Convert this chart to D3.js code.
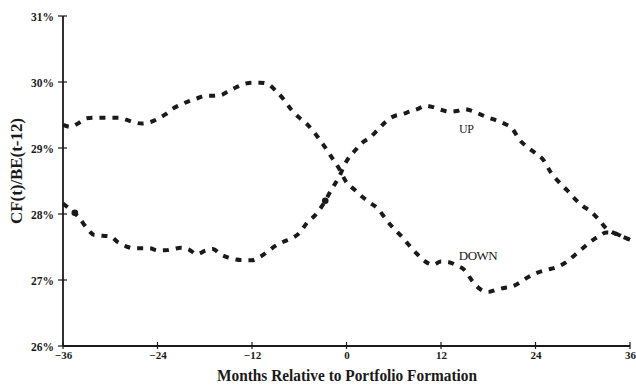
<!DOCTYPE html>
<html>
<head>
<meta charset="utf-8">
<script src="https://cdn.jsdelivr.net/npm/d3@7/dist/d3.min.js"></script>
<style>
  html, body { margin: 0; padding: 0; background: #fff; }
  svg { display: block; }
  text { font-family: "Liberation Serif", "Times New Roman", serif; fill: #1a1a1a; }
</style>
</head>
<body>
<svg id="chart" width="636" height="385"></svg>
<script>
// Months relative to portfolio formation
const months = d3.range(-36, 37);

// Series that is high before formation and low after (labelled DOWN)
const downValues = [
  29.35, 29.32, 29.38, 29.45, 29.46, 29.46, 29.46, 29.46, 29.43, 29.39,
  29.37, 29.39, 29.44, 29.51, 29.60, 29.66, 29.71, 29.75, 29.79, 29.79,
  29.80, 29.86, 29.92, 29.97, 29.99, 29.99, 29.97, 29.87, 29.74, 29.58,
  29.46, 29.36, 29.22, 29.06, 28.88, 28.70, 28.48, 28.37, 28.26, 28.17,
  28.08, 27.92, 27.78, 27.66, 27.52, 27.39, 27.28, 27.23, 27.28, 27.27,
  27.22, 27.15, 26.98, 26.86, 26.82, 26.85, 26.88, 26.90, 26.96, 27.04,
  27.10, 27.14, 27.17, 27.21, 27.28, 27.38, 27.48, 27.58, 27.66, 27.72,
  27.71, 27.66, 27.61
];

// Series that is low before formation and high after (labelled UP)
const upValues = [
  28.16, 28.06, 27.95, 27.79, 27.68, 27.67, 27.66, 27.57, 27.51, 27.48,
  27.48, 27.48, 27.45, 27.45, 27.47, 27.49, 27.46, 27.39, 27.44, 27.47,
  27.39, 27.34, 27.31, 27.30, 27.30, 27.35, 27.43, 27.52, 27.58, 27.63,
  27.71, 27.87, 27.98, 28.14, 28.35, 28.55, 28.80, 28.95, 29.08, 29.16,
  29.28, 29.40, 29.48, 29.51, 29.55, 29.59, 29.64, 29.62, 29.58, 29.55,
  29.56, 29.59, 29.56, 29.51, 29.46, 29.42, 29.37, 29.30, 29.12, 29.01,
  28.92, 28.82, 28.62, 28.48, 28.36, 28.23, 28.12, 28.04, 27.92, 27.78,
  27.71, 27.66, 27.61
];

const xTicks = [-36, -24, -12, 0, 12, 24, 36];
const yTicks = [26, 27, 28, 29, 30, 31];
const seriesLabels = [
  { name: "UP", month: 15.2, value: 29.22 },
  { name: "DOWN", month: 16.7, value: 27.30 }
];
// stray printed dots visible in the scan
const stray = [[-34.5, 28.02], [-2.7, 28.20]];

const xLabel = "Months Relative to Portfolio Formation";
const yLabel = "CF(t)/BE(t-12)";

const svg = d3.select("#chart");
const ink = "#1a1a1a";

const x = d3.scaleLinear().domain([-36, 36]).range([63, 630]);
const y = d3.scaleLinear().domain([26, 31]).range([346, 16]);

// Axes
const xAxis = d3.axisBottom(x).tickValues(xTicks).tickSize(0).tickFormat(d3.format("d"));
const gx = svg.append("g").attr("transform", `translate(0,${y(26)})`).call(xAxis);
gx.select(".domain").remove();
gx.selectAll("text").attr("dy", null).attr("y", 13)
  .style("font-size", "11px").style("font-weight", "bold").attr("fill", ink);

svg.append("line").attr("x1", x(-36)).attr("x2", x(36)).attr("y1", y(26)).attr("y2", y(26))
  .attr("stroke", ink).attr("stroke-width", 1.8);
svg.selectAll(".xt").data(xTicks).join("line")
  .attr("x1", d => x(d)).attr("x2", d => x(d)).attr("y1", y(26) - 4).attr("y2", y(26) + 3)
  .attr("stroke", ink).attr("stroke-width", 1.2);

const yAxis = d3.axisLeft(y).tickValues(yTicks).tickSize(0).tickFormat(d => d + "%");
const gy = svg.append("g").attr("transform", `translate(${x(-36)},0)`).call(yAxis);
gy.select(".domain").remove();
gy.selectAll("text").attr("x", -9).attr("dy", "0.35em")
  .style("font-size", "11.5px").style("font-weight", "bold").attr("fill", ink);

svg.append("line").attr("x1", x(-36)).attr("x2", x(-36)).attr("y1", y(31)).attr("y2", y(26))
  .attr("stroke", ink).attr("stroke-width", 1.8);
svg.selectAll(".yt").data(yTicks).join("line")
  .attr("x1", x(-36) - 5).attr("x2", x(-36) + 4).attr("y1", d => y(d)).attr("y2", d => y(d))
  .attr("stroke", ink).attr("stroke-width", 1.2);

// Lines
const line = d3.line().x((d, i) => x(months[i])).y(d => y(d)).curve(d3.curveMonotoneX);
[downValues, upValues].forEach(vals => {
  svg.append("path").datum(vals).attr("d", line)
    .attr("fill", "none").attr("stroke", ink).attr("stroke-width", 4)
    .attr("stroke-dasharray", "6,7");
});

svg.selectAll(".stray").data(stray).join("circle")
  .attr("cx", d => x(d[0])).attr("cy", d => y(d[1])).attr("r", 3.3).attr("fill", ink);

// Series labels
svg.selectAll(".slab").data(seriesLabels).join("text")
  .attr("x", d => x(d.month)).attr("y", d => y(d.value))
  .attr("text-anchor", "middle")
  .style("font-size", d => d.name === "UP" ? "12px" : "13px")
  .style("letter-spacing", "-0.5px")
  .text(d => d.name);

// Axis titles
svg.append("text").attr("x", 347).attr("y", 381).attr("text-anchor", "middle")
  .style("font-size", "16px").style("font-weight", "bold")
  .attr("textLength", 260).attr("lengthAdjust", "spacingAndGlyphs")
  .text(xLabel);

svg.append("text").attr("transform", "translate(22,171) rotate(-90)").attr("text-anchor", "middle")
  .style("font-size", "16px").style("font-weight", "bold")
  .attr("textLength", 106).attr("lengthAdjust", "spacingAndGlyphs")
  .text(yLabel);
</script>
</body>
</html>
